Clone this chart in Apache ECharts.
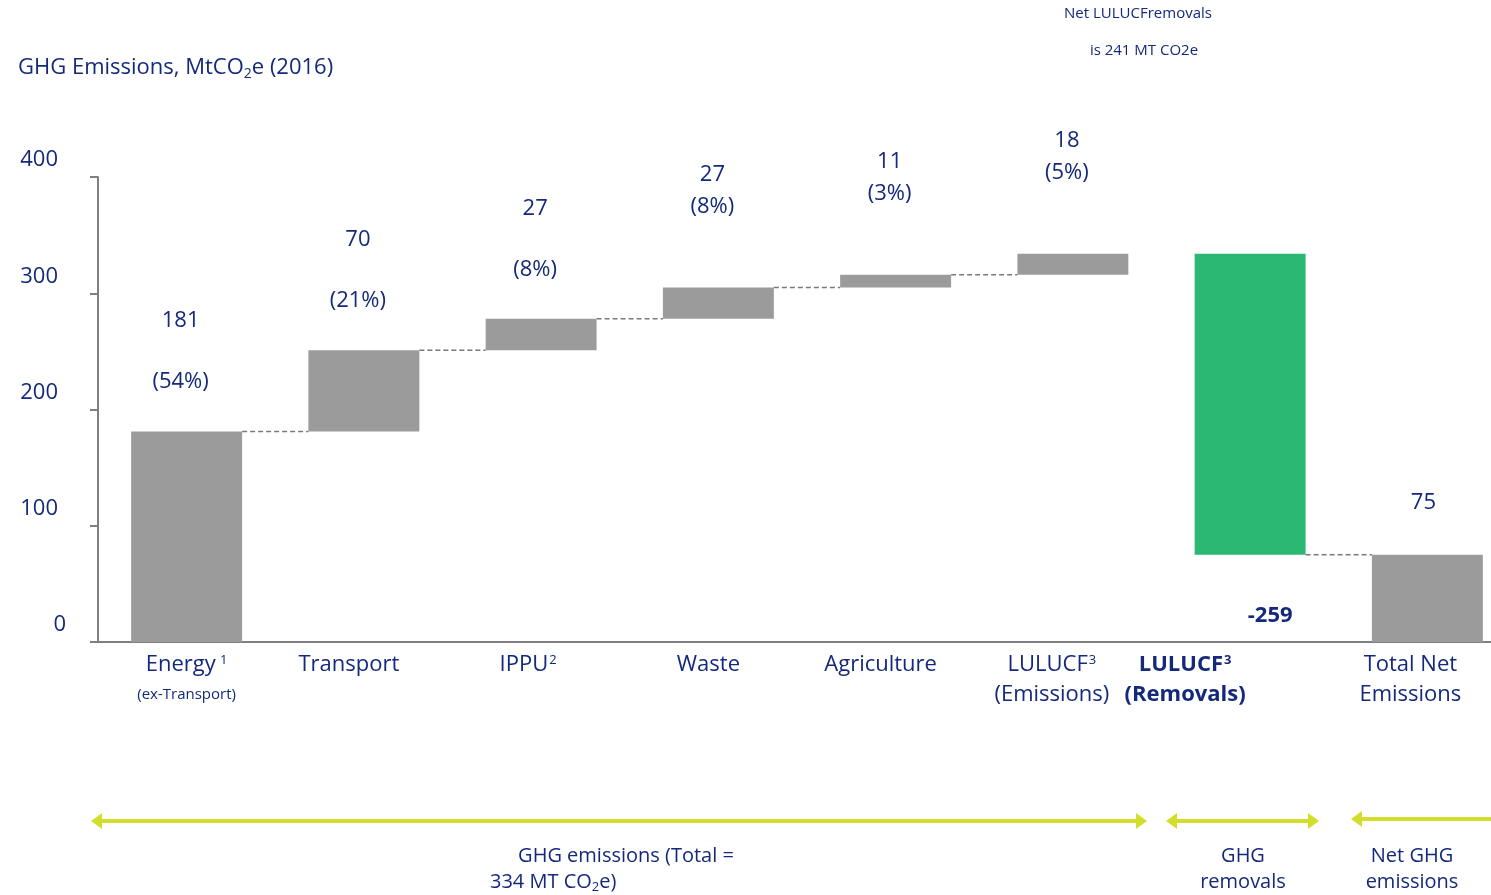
<!DOCTYPE html>
<html><head><meta charset="utf-8">
<script src="https://cdn.jsdelivr.net/npm/echarts@6/dist/echarts.min.js"></script>
<style>html,body{margin:0;padding:0;background:#fff}#c{width:1491px;height:895px}</style>
</head><body><div id="c"></div>
<script>
// ---- data ----
const categories = ['Energy', 'Transport', 'IPPU', 'Waste', 'Agriculture', 'LULUCF (Emissions)', 'LULUCF (Removals)', 'Total Net Emissions'];
const labelLine1 = ['Energy', 'Transport', 'IPPU', 'Waste', 'Agriculture', 'LULUCF', 'LULUCF', 'Total Net'];
const labelSup = ['1', '', '2', '', '', '3', '3', ''];
const labelLine2 = ['(ex-Transport)', '', '', '', '', '(Emissions)', '(Removals)', 'Emissions'];
const values = [181, 70, 27, 27, 11, 18, -259, 75];
const shares = ['54%', '21%', '8%', '8%', '3%', '5%', '', ''];
const isTotal = [false, false, false, false, false, false, false, true];
const yMin = 0, yMax = 400, yStep = 100;

// ---- styles ----
const NAVY = '#14297c';
const GRAY_BAR = '#9b9b9b';
const GREEN = '#2bb872';
const AXIS = '#808080';
const LIME = '#d3de2c';
const FONT = 'Open Sans';
const BAR_RATIO = 0.626;
const labelShift = [0, -15, -13, -10, -15, -21, -65, -17];

// ---- waterfall geometry from values ----
const base = [], height = [], levels = [];
let run = 0;
values.forEach((v, i) => {
  if (isTotal[i]) { base.push(0); height.push(v); run = v; }
  else if (v >= 0) { base.push(run); height.push(v); run += v; }
  else { run += v; base.push(run); height.push(-v); }
  levels.push(run);
});
const connectors = [];
for (let i = 0; i < values.length - 1; i++) {
  if (values[i + 1] >= 0) connectors.push([i, levels[i]]);
}

const visibleData = values.map((v, i) => {
  const item = { value: height[i], itemStyle: { color: v < 0 ? GREEN : GRAY_BAR } };
  if (shares[i]) {
    item.label = { distance: i < 3 ? 19 : 65, offset: [-6, 0] };
  } else if (v < 0) {
    item.label = { position: 'bottom', distance: 50, offset: [20, 0], fontWeight: 'bold' };
  } else {
    item.label = { distance: 41, offset: [-4, 0] };
  }
  return item;
});

const catData = categories.map((c, i) => ({
  value: c,
  textStyle: { padding: [0, labelShift[i] < 0 ? -labelShift[i] * 2 : 0, 0, 0] }
}));

function catLabel(val, idx) {
  const bold = values[idx] < 0;
  const n = bold ? 'b' : 'n';
  let s = '{' + n + '|' + labelLine1[idx] + '}';
  if (labelSup[idx]) s += '{' + (bold ? 'bsup' : 'sup') + '|' + (idx === 0 ? ' ' : '') + labelSup[idx] + '}';
  if (labelLine2[idx]) {
    const st = idx === 0 ? 'small' : n;
    s += '\n{' + st + '|' + labelLine2[idx] + '}';
  }
  return s;
}

function arrowEls(x1, x2, y, left, right) {
  const els = [{ type: 'line', shape: { x1: left ? x1 + 6 : x1, y1: y, x2: right ? x2 - 6 : x2, y2: y }, style: { stroke: LIME, lineWidth: 4 } }];
  if (left) els.push({ type: 'polygon', shape: { points: [[x1, y], [x1 + 11, y - 8], [x1 + 11, y + 8]] }, style: { fill: LIME } });
  if (right) els.push({ type: 'polygon', shape: { points: [[x2, y], [x2 - 11, y - 8], [x2 - 11, y + 8]] }, style: { fill: LIME } });
  return els;
}
function txt(x, y, t, size, align) {
  return { type: 'text', x: x, y: y, style: { text: t, fill: NAVY, font: size + 'px "' + FONT + '"', align: align || 'center', verticalAlign: 'middle' } };
}

const chart = echarts.init(document.getElementById('c'), null, { renderer: 'canvas' });
chart.setOption({
  animation: false,
  backgroundColor: '#fff',
  textStyle: { fontFamily: FONT },
  title: {
    left: 18, top: 55, padding: 0,
    text: '{a|GHG Emissions, MtCO}{s|2}{a|e (2016)}',
    textStyle: {
      fontWeight: 'normal',
      rich: {
        a: { fontSize: 22, color: NAVY, fontFamily: FONT, fontWeight: 'normal', lineHeight: 26 },
        s: { fontSize: 14, color: NAVY, fontFamily: FONT, fontWeight: 'normal', verticalAlign: 'bottom', lineHeight: 26 }
      }
    }
  },
  grid: { left: 98, top: 177, width: 1418, bottom: 253, containLabel: false, outerBoundsMode: 'none' },
  xAxis: {
    type: 'category',
    data: catData,
    axisLine: { lineStyle: { color: AXIS, width: 2 } },
    axisTick: { show: false },
    axisLabel: {
      interval: 0, margin: 8, color: NAVY, fontSize: 22, lineHeight: 30,
      formatter: catLabel,
      rich: {
        n: { fontSize: 22, color: NAVY, lineHeight: 30, fontFamily: FONT },
        b: { fontSize: 22, color: NAVY, lineHeight: 30, fontWeight: 'bold', fontFamily: FONT },
        sup: { fontSize: 13, color: NAVY, verticalAlign: 'top', lineHeight: 30, padding: [4, 0, 0, 1], fontFamily: FONT },
        bsup: { fontSize: 13, color: NAVY, verticalAlign: 'top', lineHeight: 30, fontWeight: 'bold', padding: [4, 0, 0, 1], fontFamily: FONT },
        small: { fontSize: 15, color: NAVY, lineHeight: 30, fontFamily: FONT }
      }
    }
  },
  yAxis: {
    type: 'value', min: yMin, max: yMax, interval: yStep,
    axisLine: { show: true, lineStyle: { color: AXIS, width: 2 } },
    axisTick: { show: true, length: 8, lineStyle: { color: AXIS, width: 2 } },
    splitLine: { show: false },
    axisLabel: {
      margin: 32,
      formatter: v => v === 0 ? '{z|' + v + '}' : '{t|' + v + '}',
      rich: {
        t: { fontSize: 22, color: NAVY, fontFamily: FONT, lineHeight: 24, padding: [0, 8, 34, 0] },
        z: { fontSize: 22, color: NAVY, fontFamily: FONT, lineHeight: 24, padding: [0, 0, 34, 0] }
      }
    }
  },
  series: [
    {
      name: 'base', type: 'bar', stack: 'w', barWidth: (BAR_RATIO * 100) + '%',
      itemStyle: { color: 'transparent' }, silent: true,
      data: base
    },
    {
      name: 'value', type: 'bar', stack: 'w', barWidth: (BAR_RATIO * 100) + '%',
      data: visibleData,
      label: {
        show: true, position: 'top', color: NAVY, fontSize: 22, fontFamily: FONT,
        formatter: p => {
          const i = p.dataIndex;
          if (shares[i]) {
            const g = i < 3 ? 'w' : 't';
            return '{v' + g + '|' + values[i] + '}\n{v' + g + '|(' + shares[i] + ')}';
          }
          return String(values[i]);
        },
        rich: {
          vw: { fontSize: 22, color: NAVY, lineHeight: 61, fontFamily: FONT },
          vt: { fontSize: 22, color: NAVY, lineHeight: 32, fontFamily: FONT }
        }
      }
    },
    {
      name: 'connectors', type: 'custom', silent: true, z: 5,
      data: connectors,
      encode: { x: 0, y: 1 },
      renderItem: (params, api) => {
        const i = api.value(0), lvl = api.value(1);
        const p0 = api.coord([i, lvl]);
        const p1 = api.coord([i + 1, lvl]);
        const hw = api.size([1, 0])[0] * BAR_RATIO / 2;
        return {
          type: 'line',
          shape: { x1: p0[0] + hw, y1: p0[1], x2: p1[0] - hw, y2: p1[1] },
          style: { stroke: '#7a7a7a', lineWidth: 1.5, lineDash: [5, 3] }
        };
      }
    }
  ],
  graphic: [].concat(
    arrowEls(91, 1147, 821, true, true),
    arrowEls(1166, 1319, 821, true, true),
    arrowEls(1351, 1491, 819, true, false),
    [
      txt(1138, 14, 'Net LULUCFremovals', 15),
      txt(1144, 51, 'is 241 MT CO2e', 15),
      txt(626, 856, 'GHG emissions (Total =', 20),
      {
        type: 'text', x: 490, y: 882,
        style: {
          text: '{a|334 MT CO}{s|2}{a|e)}', align: 'left', verticalAlign: 'middle',
          rich: {
            a: { fontSize: 20, fill: NAVY, fontFamily: FONT, lineHeight: 24 },
            s: { fontSize: 13, fill: NAVY, fontFamily: FONT, lineHeight: 24, verticalAlign: 'bottom' }
          }
        }
      },
      txt(1243, 856, 'GHG', 20),
      txt(1243, 882, 'removals', 20),
      txt(1412, 856, 'Net GHG', 20),
      txt(1412, 882, 'emissions', 20)
    ]
  )
});
</script>
</body></html>
